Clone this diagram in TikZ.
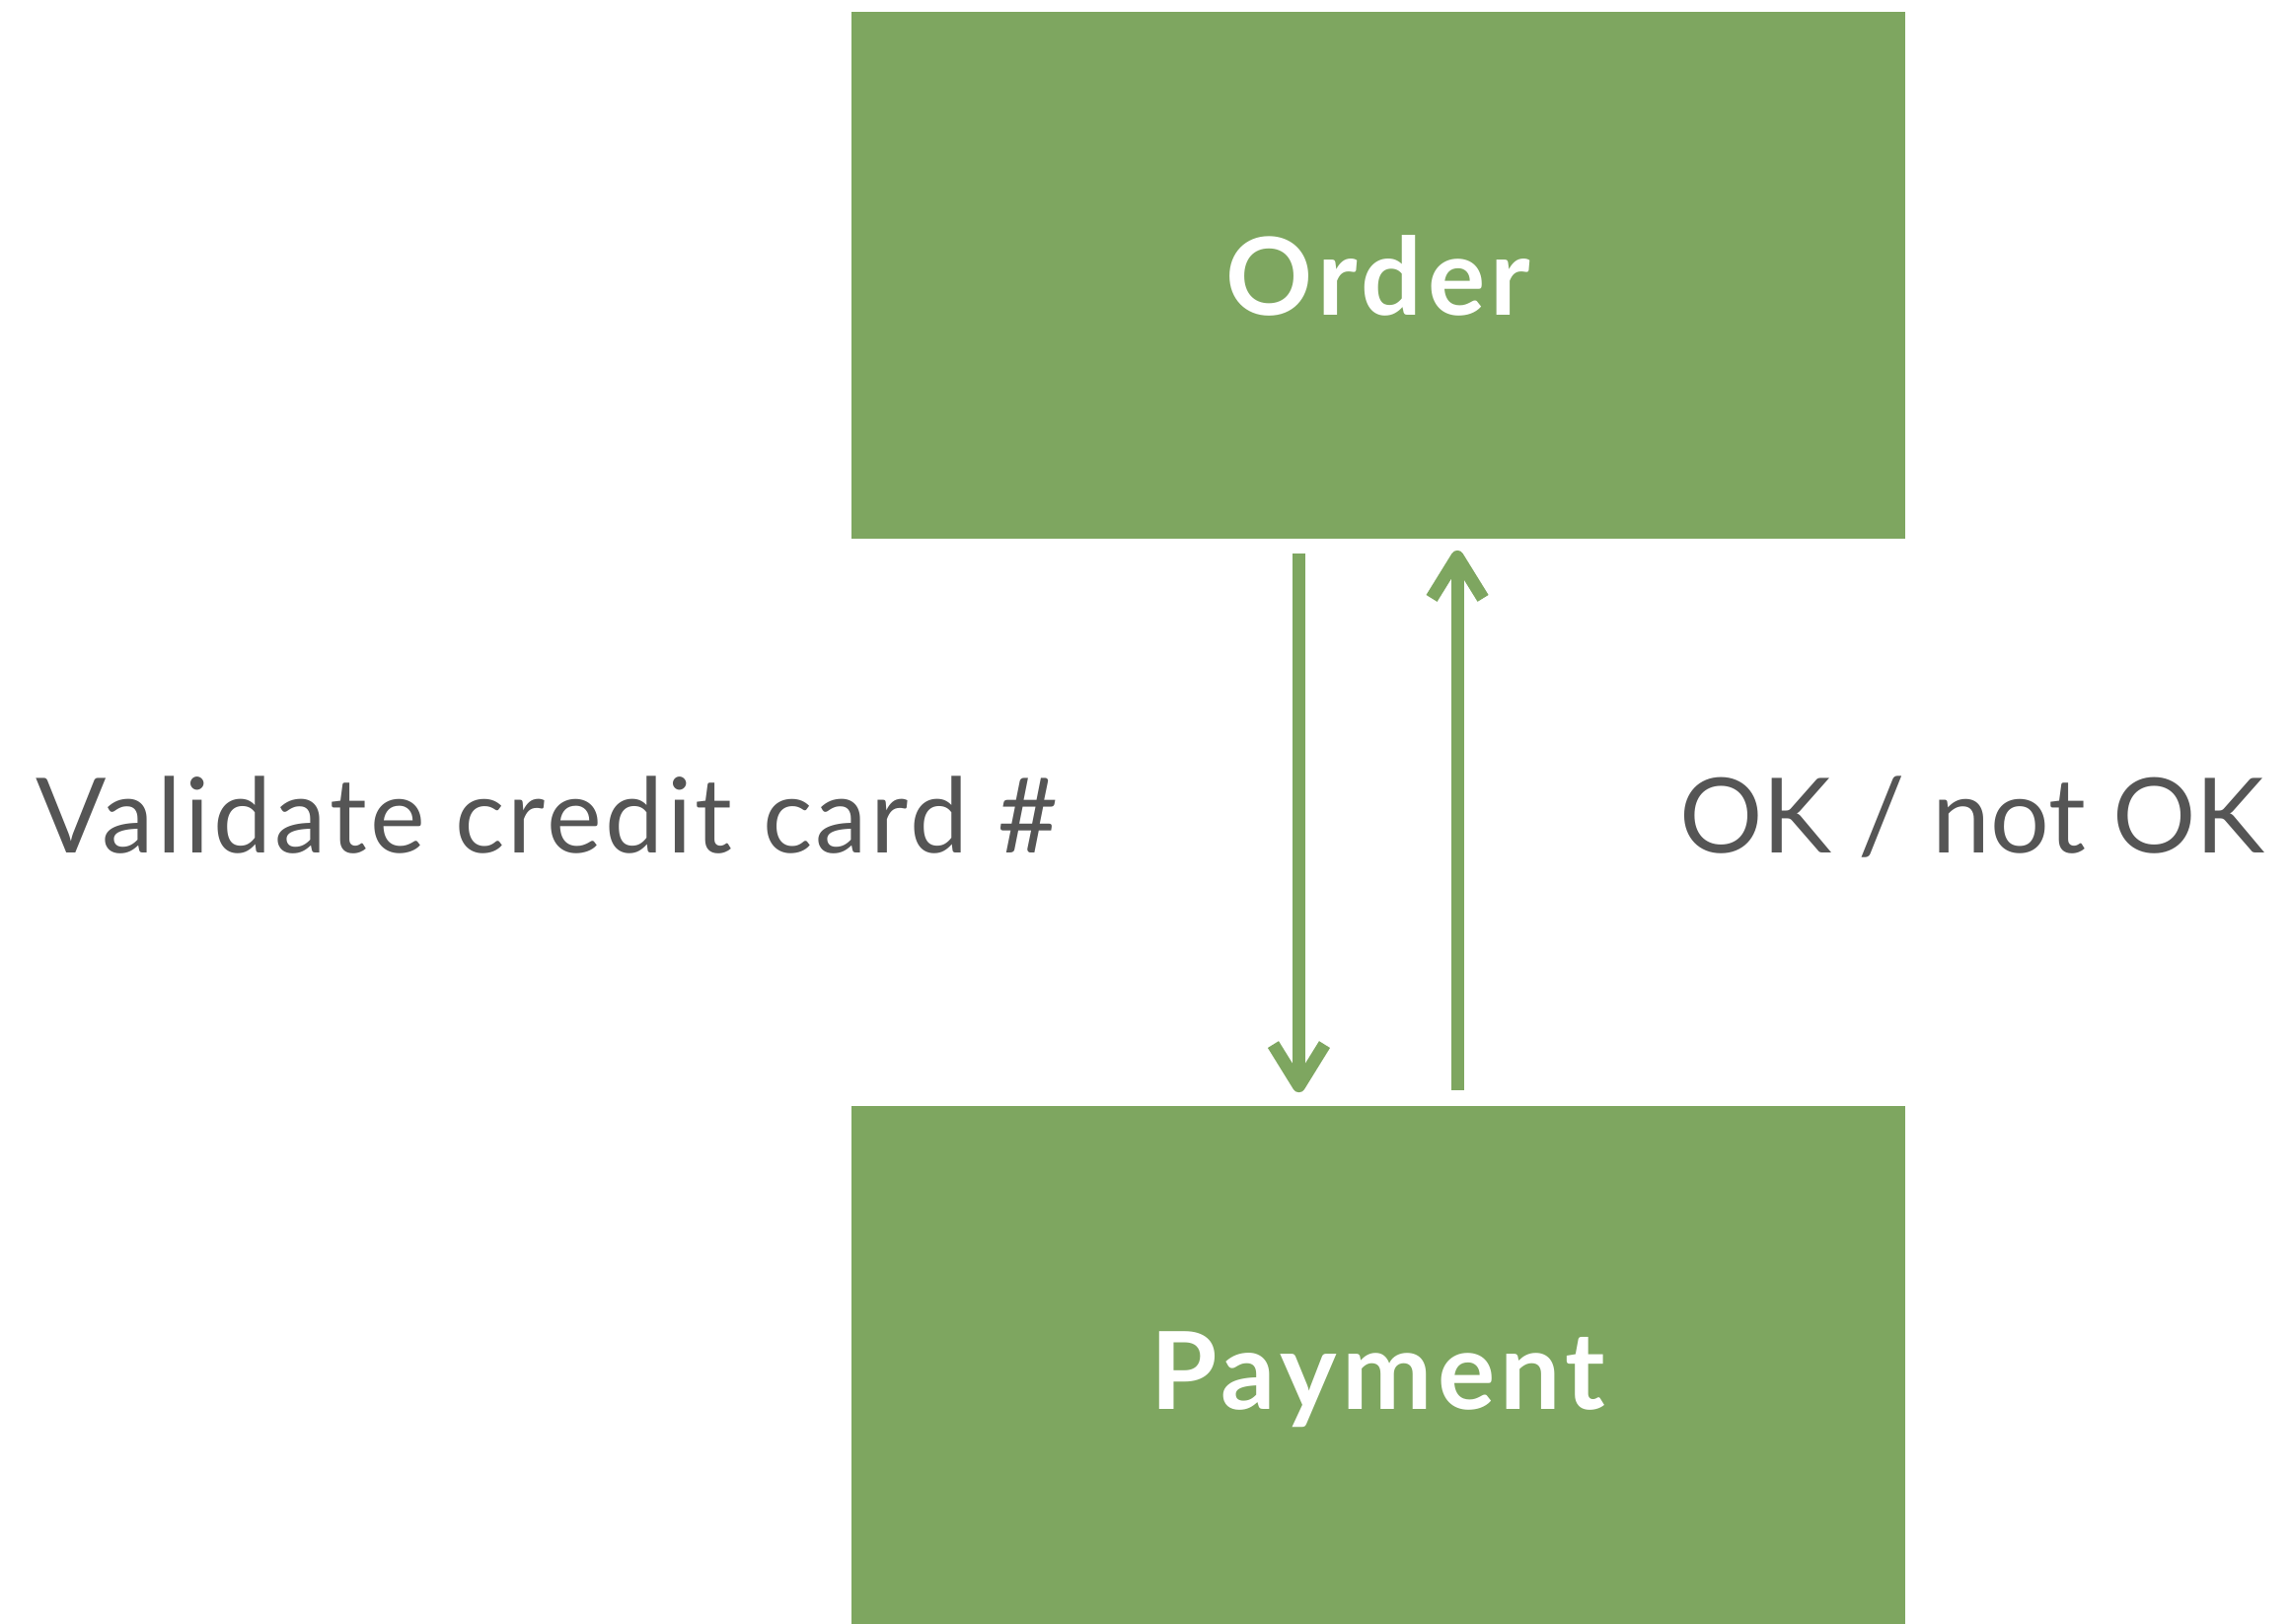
\documentclass[tikz,border=0pt]{standalone}
\usepackage{fontspec}
\setmainfont{Lato}
\newfontfamily\blockfont[LetterSpace=5]{Lato}
\newfontfamily\widefont[LetterSpace=3.2]{Lato}
\usetikzlibrary{arrows.meta}

\definecolor{boxgreen}{HTML}{7EA660}
\definecolor{labelgray}{HTML}{555555}

\tikzset{
	block/.style={fill=boxgreen, draw=none, minimum width=10.68cm, minimum height=5.34cm,
		text height=0.8cm, text depth=0pt,
		text=white, font=\blockfont\fontsize{31}{36}\selectfont\bfseries},
	msg/.style={->, >={Straight Barb[length=0.42cm,width=0.52cm,line join=round]},
		draw=boxgreen, line width=0.13cm},
	lbl/.style={text=labelgray, inner sep=0pt, font=\fontsize{30}{36}\selectfont}
}

\begin{document}
\begin{tikzpicture}[x=0.01cm,y=-0.01cm]
		\clip (0,0) rectangle (2322,1645);
		\useasboundingbox (0,0) rectangle (2322,1645);

		% Blocos
		\node[block] (order)   at (1397,279)  {Order};
		\node[block] (payment) at (1397,1388) {Payment};

		% Mensagens
		\draw[msg, shorten <=0.14cm, shorten >=0.13cm] ([xshift=-0.805cm]order.south) -- ([xshift=-0.805cm]payment.north);
		\draw[msg, shorten <=0.15cm, shorten >=0.11cm] ([xshift=0.8cm]payment.north) -- ([xshift=0.8cm]order.south);

		% Rótulos
		\node[lbl, anchor=base west] (validate) at (36,864)   {\widefont Validate credit card \#};
		\node[lbl, anchor=base east] (okay)     at (2296,864) {OK / not OK};
	\end{tikzpicture}
\end{document}
